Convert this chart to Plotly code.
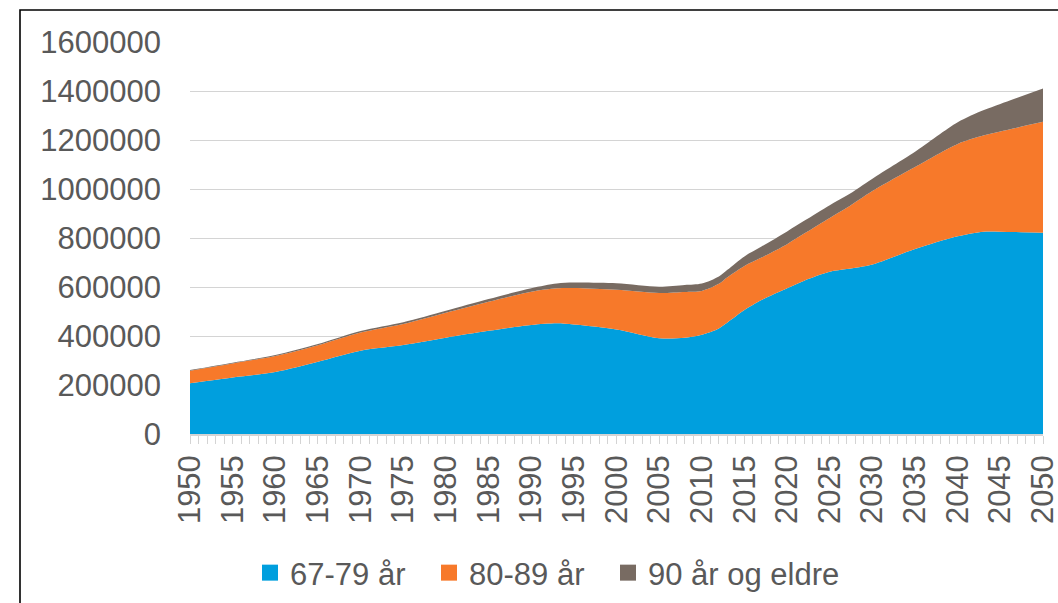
import plotly.graph_objects as go

# Data
years = [1950, 1955, 1960, 1965, 1970, 1975, 1980, 1985, 1990, 1993, 1995,
         2000, 2005, 2008, 2010, 2012, 2013, 2015, 2017, 2020, 2022, 2025,
         2027, 2030, 2035, 2040, 2043, 2045, 2050]
age_67_79 = [207000, 231000, 253000, 295000, 340000, 363000, 393000, 421000,
             445000, 452000, 447000, 427000, 391000, 393000, 405000, 431000,
             455000, 506000, 547000, 595000, 626000, 662000, 673000, 692000,
             755000, 807000, 826000, 826000, 821000]
age_80_89 = [51000, 57000, 65000, 67000, 74000, 86000, 102000, 119000,
             136000, 143000, 149000, 162000, 185000, 187000, 179000, 182000,
             185000, 180000, 173000, 180000, 192000, 220000, 250000, 300000,
             335000, 377000, 392000, 409000, 453000]
age_90_plus = [3000, 3000, 4000, 5000, 6000, 7000, 8000, 11000,
               14000, 19000, 22000, 26000, 25000, 28000, 30000, 30000,
               30000, 39000, 45000, 52000, 52000, 52000, 50000, 50000,
               62000, 88000, 103000, 112000, 136000]
series_names = ["67-79 år", "80-89 år", "90 år og eldre"]
colors = ["#009FDE", "#F7792A", "#786B62"]
x_tickvals = list(range(1950, 2051, 5))
x_ticktext = [str(v) for v in x_tickvals]
y_tickvals = list(range(0, 1600001, 200000))
y_ticktext = [str(v) for v in y_tickvals]

FONT = "Liberation Sans, Arial, sans-serif"
TXT = "#595959"
GRID = "#d4d4d4"
FS = 31

W, H = 1058, 603
L, R, T, B = 190, 15, 42, 169
pw, ph = W - L - R, H - T - B

def px(x):
    return (x - L) / pw

def py(y):
    return (H - B - y) / ph

legend_ids = ["legend", "legend2", "legend3"]
legend_x = [250, 429, 608]

fig = go.Figure()
for name, vals, col in zip(series_names, [age_67_79, age_80_89, age_90_plus], colors):
    fig.add_trace(go.Scatter(
        x=years, y=vals, name=name, stackgroup="one", mode="lines",
        line=dict(width=0, color=col, shape="spline", smoothing=0.8),
        fillcolor=col, showlegend=False, hoverinfo="x+y+name"))
# legend entries with square markers
for name, col, lid in zip(series_names, colors, legend_ids):
    fig.add_trace(go.Scatter(
        x=[None], y=[None], name=name, mode="markers", legend=lid,
        marker=dict(symbol="square", size=16, color=col), showlegend=True))

legend_common = dict(orientation="h", xanchor="left", yanchor="middle",
                     font=dict(size=FS, color=TXT), itemwidth=30,
                     bgcolor="rgba(0,0,0,0)")

fig.update_layout(
    width=W, height=H,
    margin=dict(l=L, r=R, t=T, b=B, pad=0, autoexpand=False),
    paper_bgcolor="white", plot_bgcolor="white",
    font=dict(family=FONT, size=FS, color=TXT),
    xaxis=dict(range=[1950, 2050], tickvals=x_tickvals, ticktext=x_ticktext,
               tickangle=-90, ticks="outside", ticklen=8, tickcolor=GRID,
               tickwidth=1.3, showgrid=False, showline=True, linecolor=GRID,
               linewidth=1.5, zeroline=False, ticklabelstandoff=-1,
               ticklabeloverflow="allow", automargin=False,
               minor=dict(dtick=1, ticks="outside", ticklen=8,
                          tickcolor=GRID, tickwidth=1.3, showgrid=False),
               tickfont=dict(size=FS, color=TXT)),
    yaxis=dict(range=[0, 1600000], tickvals=y_tickvals, ticktext=y_ticktext,
               showgrid=True, gridcolor=GRID, gridwidth=1.4,
               zeroline=False, showline=False, ticks="", automargin=False,
               ticklabelstandoff=28, tickfont=dict(size=FS, color=TXT)),
    legend=dict(x=px(legend_x[0]), y=py(573), **legend_common),
    legend2=dict(x=px(legend_x[1]), y=py(573), **legend_common),
    legend3=dict(x=px(legend_x[2]), y=py(573), **legend_common),
    shapes=[dict(type="rect", xref="paper", yref="paper",
                 x0=px(20), x1=px(1100), y0=py(10), y1=py(700),
                 line=dict(color="black", width=1.6), fillcolor="rgba(0,0,0,0)",
                 layer="above")],
)

fig.write_html("out.html", config={"displayModeBar": False},
               post_script="document.body.style.margin='0';document.body.style.overflow='hidden';")
